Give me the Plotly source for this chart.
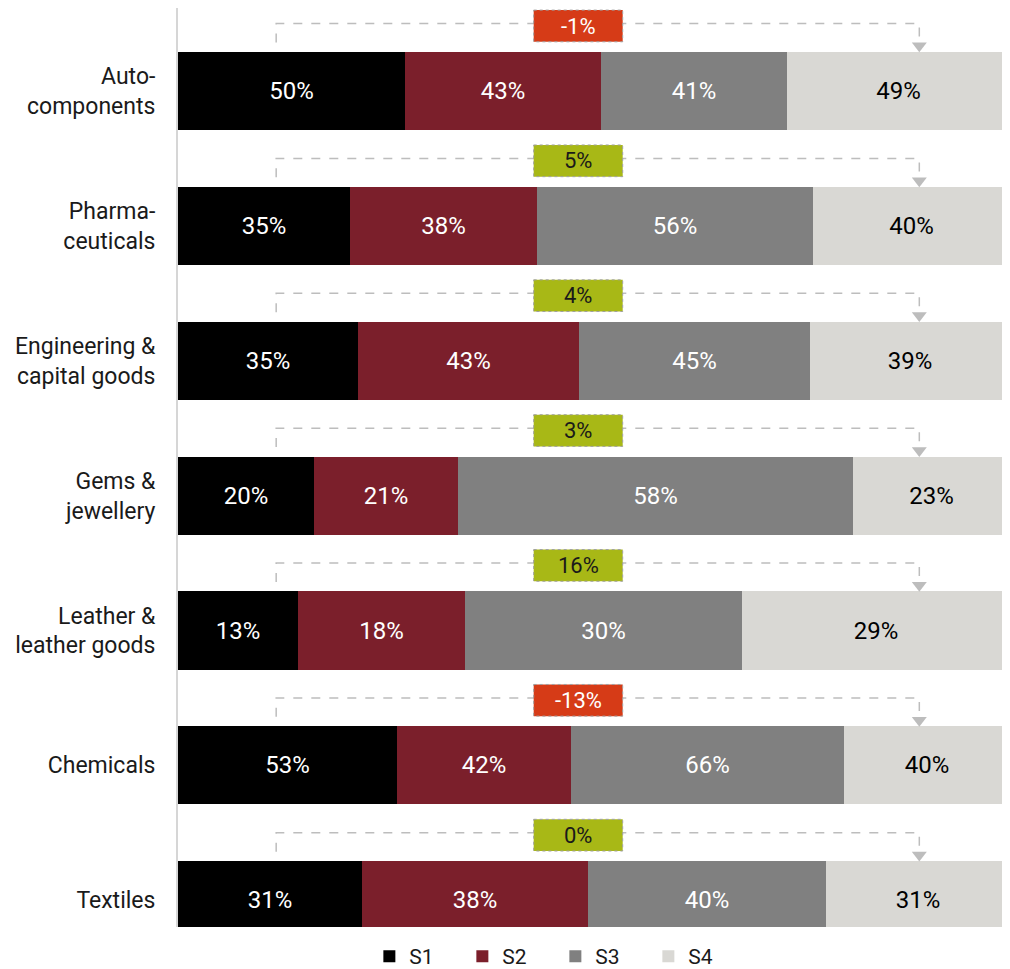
import plotly.graph_objects as go

# Data
categories = ["Auto-<br>components", "Pharma-<br>ceuticals", "Engineering &<br>capital goods",
              "Gems &<br>jewellery", "Leather &<br>leather goods", "Chemicals", "Textiles"]
series_names = ["S1", "S2", "S3", "S4"]
s1 = [50, 35, 35, 20, 13, 53, 31]
s2 = [43, 38, 43, 21, 18, 42, 38]
s3 = [41, 56, 45, 58, 30, 66, 40]
s4 = [49, 40, 39, 23, 29, 40, 31]

colors = ["#000000", "#7B1F2B", "#808080", "#D9D8D4"]
text_colors = ["white", "white", "white", "black"]
neg_color = "#D63B17"
pos_color = "#A8B816"
bracket_color = "#BDBDBD"
FONT = "Roboto"

rows = list(range(len(categories)))
fig = go.Figure()

for name, vals, col, tcol in zip(series_names, [s1, s2, s3, s4], colors, text_colors):
    fig.add_trace(go.Bar(
        y=rows, x=vals, name=name, orientation="h",
        marker=dict(color=col, line=dict(width=0)),
        text=[f"{v}%" for v in vals],
        textposition="inside", insidetextanchor="middle",
        textfont=dict(color=tcol, size=24, family=FONT),
        width=0.58,
    ))

# change brackets (S4 - S1)
bx0, bx1 = 11.8, 89.1
box_c, box_w = 48.1, 10.7
for r, a, b in zip(rows, s1, s4):
    diff = b - a
    yl = r - 0.5
    fig.add_shape(type="path",
                  path=f"M {bx0},{r - 0.36} L {bx0},{yl} L {bx1},{yl} L {bx1},{r - 0.36}",
                  line=dict(color=bracket_color, width=1.5, dash="dash"), layer="below")
    fig.add_trace(go.Scatter(x=[bx1], y=[r - 0.335], mode="markers",
                             marker=dict(symbol="triangle-down", size=13, color=bracket_color),
                             showlegend=False, hoverinfo="skip"))
    fill = neg_color if diff < 0 else pos_color
    fig.add_shape(type="rect", x0=box_c - box_w / 2, x1=box_c + box_w / 2,
                  y0=r - 0.6, y1=r - 0.365, fillcolor=fill,
                  line=dict(color="#A0A0A0", width=1, dash="dot"))
    fig.add_annotation(x=box_c, y=r - 0.482, text=f"{diff}%", showarrow=False,
                       font=dict(size=22, family=FONT,
                                 color="white" if diff < 0 else "#1a1a1a"))

fig.update_layout(
    barmode="stack", barnorm="percent",
    width=1002, height=969,
    plot_bgcolor="white", paper_bgcolor="white",
    margin=dict(l=170, r=0, t=0, b=50),
    font=dict(family=FONT, size=23, color="#1a1a1a"),
    xaxis=dict(range=[0, 100], visible=False, fixedrange=True),
    yaxis=dict(range=[6.1985, -0.6156], tickvals=rows, ticktext=categories,
               showgrid=False, zeroline=False, showline=True,
               linecolor="#D6D6D6", linewidth=2, ticks="", ticklabelstandoff=16),
    legend=dict(orientation="h", x=0.23, xanchor="left", y=-0.01, yanchor="top",
                font=dict(size=21), entrywidth=48, entrywidthmode="pixels",
                itemwidth=30, traceorder="normal"),
    bargap=0,
)

fig.write_html("out.html")
